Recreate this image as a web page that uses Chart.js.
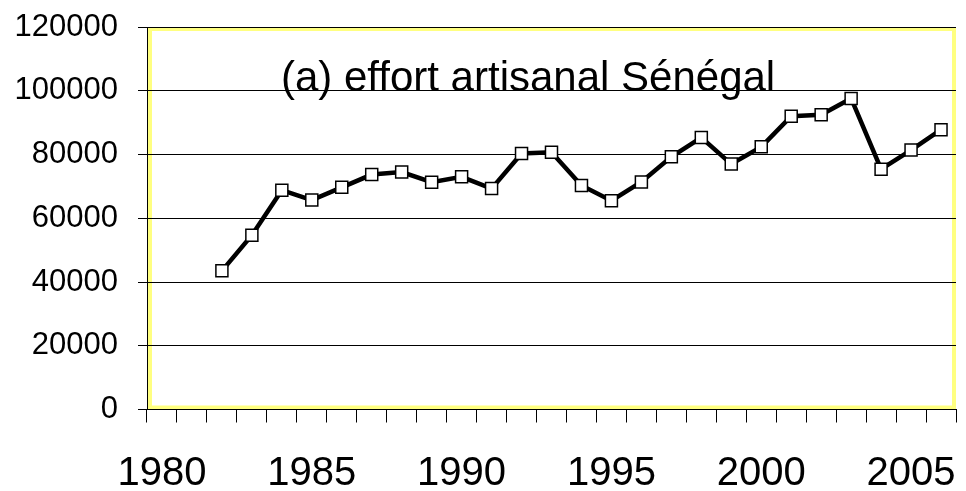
<!DOCTYPE html>
<html><head><meta charset="utf-8">
<script src="https://cdn.jsdelivr.net/npm/chart.js@4/dist/chart.umd.min.js"></script>
<style>html,body{margin:0;padding:0;background:#fff}</style>
</head><body>
<canvas id="c" width="966" height="491"></canvas>
<script>
const years = ['1980','1981','1982','1983','1984','1985','1986','1987','1988','1989','1990','1991','1992','1993','1994','1995','1996','1997','1998','1999','2000','2001','2002','2003','2004','2005','2006'];
const effort = [null,null,43500,54700,68800,65700,69700,73700,74500,71300,73000,69300,80300,80700,70300,65500,71400,79300,85300,77000,82400,92000,92500,97600,75400,81400,87800];
const yTicks = [0,20000,40000,60000,80000,100000,120000];
const xLabelEvery = 5;
const titleText = '(a) effort artisanal Sénégal';
const FONT = '"Liberation Sans", Arial, sans-serif';

const framePlugin = {
  id: 'frame',
  beforeDraw(chart) {
    const {ctx, chartArea: a} = chart;
    ctx.save();
    ctx.fillStyle = '#ffffff';
    ctx.fillRect(0, 0, chart.width, chart.height);
    ctx.strokeStyle = '#ffff80';
    ctx.lineWidth = 4;
    ctx.strokeRect(a.left + 3, a.top + 2, a.right - a.left - 5, a.bottom - a.top - 4);
    ctx.restore();
  }
};
const titlePlugin = {
  id: 'innerTitle',
  afterDatasetsDraw(chart) {
    const {ctx, chartArea: a} = chart;
    ctx.save();
    ctx.font = '42px ' + FONT;
    ctx.fillStyle = '#000';
    ctx.textBaseline = 'alphabetic';
    ctx.textAlign = 'left';
    ctx.fillText(titleText, a.left + 134, a.top + 64);
    ctx.restore();
  }
};

new Chart(document.getElementById('c'), {
  type: 'line',
  data: {
    labels: years,
    datasets: [{
      data: effort,
      borderColor: '#000',
      borderWidth: 4.5,
      pointStyle: 'rect',
      pointRadius: 8.5,
      pointBorderWidth: 1.5,
      pointBackgroundColor: '#fff',
      pointBorderColor: '#000',
      tension: 0,
      spanGaps: false
    }]
  },
  options: {
    responsive: false,
    devicePixelRatio: 1,
    animation: false,
    layout: { padding: { top: 27, right: 2, bottom: 0, left: 0 } },
    plugins: { legend: { display: false }, tooltip: { enabled: false }, title: { display: false } },
    scales: {
      x: {
        type: 'category',
        offset: true,
        afterFit: (s) => { s.height = 81.5; s.paddingLeft = 0; s.paddingRight = 0; },
        grid: { offset: true, drawOnChartArea: false, drawTicks: true, tickLength: 13, color: '#000', lineWidth: 1 },
        border: { display: true, color: '#000', width: 1 },
        ticks: {
          autoSkip: false, maxRotation: 0, minRotation: 0,
          color: '#000', font: { family: FONT, size: 40 }, padding: 27,
          callback: (v, i) => (Number(years[i]) % xLabelEvery === 0 ? years[i] : '')
        }
      },
      y: {
        min: 0, max: 120000,
        afterBuildTicks: (s) => { s.ticks = yTicks.map(v => ({ value: v })); },
        afterFit: (s) => { s.width = 147; s.paddingTop = 0; s.paddingBottom = 0; },
        grid: { color: '#000', lineWidth: 1, tickLength: 9, drawTicks: true },
        border: { display: true, color: '#000', width: 1 },
        ticks: { color: '#000', font: { family: FONT, size: 31 }, padding: 20, callback: (v) => String(v) }
      }
    }
  },
  plugins: [framePlugin, titlePlugin]
});
</script>
</body></html>
